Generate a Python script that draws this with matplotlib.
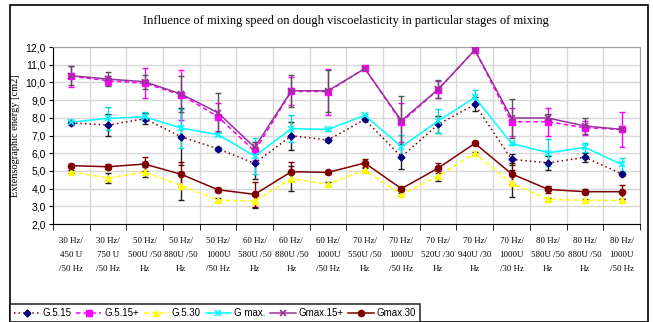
import matplotlib.pyplot as plt
from matplotlib.patches import Rectangle
from matplotlib.ticker import FuncFormatter
import numpy as np

categories = ["30 Hz/\n450 U\n/50 Hz", "30 Hz/\n750 U\n/50 Hz", "50 Hz/\n500U /50\nHz",
              "50 Hz/\n880U /50\nHz", "50 Hz/\n1000U\n/50 Hz", "60 Hz/\n580U /50\nHz",
              "60 Hz/\n880U /50\nHz", "60 Hz/\n1000U\n/50 Hz", "70 Hz/\n550U /50\nHz",
              "70 Hz/\n1000U\n/50 Hz", "70 Hz/\n520U /30\nHz", "70 Hz/\n940U /30\nHz",
              "70 Hz/\n1000U\n/30 Hz", "80 Hz/\n580U /50\nHz", "80 Hz/\n880U /50\nHz",
              "80 Hz/\n1000U\n/50 Hz"]

g515 = [7.72, 7.59, 7.95, 6.93, 6.25, 5.43, 6.99, 6.75, 7.91, 5.8, 7.63, 8.76, 5.66, 5.46, 5.77, 4.84]
g515_err = [0.1, 0.6, 0.3, 1.6, 0.1, 0.9, 0.8, 0.1, 0.1, 0.7, 0.5, 0.4, 0.3, 0.4, 0.25, 0.1]
g515p = [10.35, 10.1, 9.95, 9.3, 8.06, 6.12, 9.5, 9.48, 10.8, 7.75, 9.6, 11.83, 7.78, 7.78, 7.44, 7.35]
g515p_err = [0.6, 0.25, 0.85, 1.4, 0.8, 0.5, 0.8, 1.3, 0.1, 1.1, 0.5, 0.1, 0.8, 0.8, 0.4, 1.0]
g530 = [4.96, 4.6, 4.94, 4.17, 3.36, 3.3, 4.56, 4.26, 5.05, 3.68, 4.71, 6.0, 4.3, 3.4, 3.34, 3.34]
g530_err = [0.1, 0.3, 0.3, 0.8, 0.1, 0.4, 0.7, 0.1, 0.1, 0.1, 0.3, 0.1, 0.75, 0.1, 0.1, 0.1]
gmax = [7.76, 7.97, 8.06, 7.42, 7.05, 5.84, 7.39, 7.35, 8.14, 6.37, 7.82, 9.16, 6.56, 6.03, 6.33, 5.37]
gmax_err = [0.1, 0.65, 0.25, 1.1, 0.1, 1.0, 0.75, 0.1, 0.1, 0.65, 0.7, 0.4, 0.1, 0.75, 0.25, 0.35]
gmax15p = [10.38, 10.19, 10.04, 9.34, 8.29, 6.33, 9.53, 9.53, 10.78, 7.84, 9.61, 11.83, 7.99, 7.99, 7.54, 7.35]
gmax15p_err = [0.55, 0.4, 0.4, 1.0, 1.1, 0.3, 0.9, 1.2, 0.1, 1.4, 0.5, 0.1, 1.1, 0.25, 0.45, 0.05]
gmax30 = [5.3, 5.24, 5.39, 4.81, 3.94, 3.68, 4.96, 4.92, 5.45, 4.0, 5.16, 6.56, 4.84, 3.96, 3.83, 3.83]
gmax30_err = [0.1, 0.15, 0.4, 0.7, 0.1, 0.7, 0.55, 0.1, 0.2, 0.1, 0.3, 0.1, 0.6, 0.2, 0.15, 0.4]

x = np.arange(len(categories))

fig = plt.figure(figsize=(6.53, 3.22), dpi=100)
ax = fig.add_axes([0.081, 0.304, 0.899, 0.55])

series = [
    ("G.5.15", g515, g515_err, dict(color="#800000", ls=(0, (1, 2)), marker="D", mfc="#000080", mec="#000080", ms=3.5), "#222222"),
    ("G.5.15+", g515p, g515p_err, dict(color="#ff00ff", ls=(0, (3, 2)), marker="s", mfc="#ff00ff", mec="#ff00ff", ms=4.5), "#ff00ff"),
    ("G.5.30", g530, g530_err, dict(color="#ffff00", ls=(0, (3, 2)), marker="^", mfc="#ffff00", mec="#ffff00", ms=5), "#222222"),
    ("G max.", gmax, gmax_err, dict(color="#00ffff", ls="-", marker="x", mec="#00ffff", ms=4, mew=1.2), "#00e0e0"),
    ("Gmax.15+", gmax15p, gmax15p_err, dict(color="#993399", ls="-", marker="x", mec="#993399", ms=4, mew=1.2), "#555555"),
    ("Gmax.30", gmax30, gmax30_err, dict(color="#800000", ls="-", marker="o", mfc="#800000", mec="#800000", ms=4.5), "#800000"),
]

for name, vals, err, style, ecol in series:
    ax.errorbar(x, vals, yerr=err, fmt="none", ecolor=ecol, elinewidth=1, capsize=2.5, capthick=1, zorder=2)
    ax.plot(x, vals, lw=1.1, label=name, zorder=3, **style)

ax.set_xlim(-0.5, len(categories) - 0.5)
ax.set_ylim(2.0, 12.0)
ax.set_yticks(np.arange(2, 12.5, 1.0))
ax.yaxis.set_major_formatter(FuncFormatter(lambda v, p: f"{v:.1f}".replace(".", ",")))
ax.set_xticks(x)
ax.set_xticklabels(categories, fontsize=6.4, family="Liberation Serif", linespacing=2.0)
ax.set_xticks(np.arange(-0.5, len(categories), 1.0), minor=True)
ax.tick_params(axis="x", which="major", length=0, pad=9)
ax.tick_params(axis="x", which="minor", length=4, direction="out", color="black")
ax.tick_params(axis="y", length=3, direction="out", labelsize=7.5, pad=2)
for lab in ax.get_yticklabels():
    lab.set_family("Liberation Sans")
ax.grid(True, which="minor", axis="x", color="#d8d8d8", lw=1)
ax.grid(True, which="major", axis="y", color="#d8d8d8", lw=1)
ax.set_axisbelow(True)
ax.spines["left"].set_color("black")
ax.spines["bottom"].set_color("black")
ax.spines["top"].set_color("#a0a0a0")
ax.spines["right"].set_color("#a0a0a0")
ax.set_ylabel("Extensographic energy [cm2]", family="Liberation Serif", fontsize=7.5, labelpad=4)

fig.text(0.53, 0.935, "Influence of mixing speed on dough viscoelasticity in particular stages of mixing",
         ha="center", va="center", family="Liberation Serif", fontsize=9)

# outer frame of the chart
fig.patches.append(Rectangle((10 / 653, 0.0), 638 / 653, 1 - 5 / 322, transform=fig.transFigure,
                             fill=False, ec="black", lw=1.2))

leg = fig.legend(loc="lower left", bbox_to_anchor=(10 / 653, 0.0), ncol=6, prop={"family": "Liberation Sans", "size": 7},
                 frameon=True, fancybox=False, edgecolor="black", handlelength=2.6, handletextpad=0.3,
                 columnspacing=0.5, borderpad=0.4, borderaxespad=0)
leg.get_frame().set_linewidth(1.2)

fig.savefig("out.png", dpi=100)
